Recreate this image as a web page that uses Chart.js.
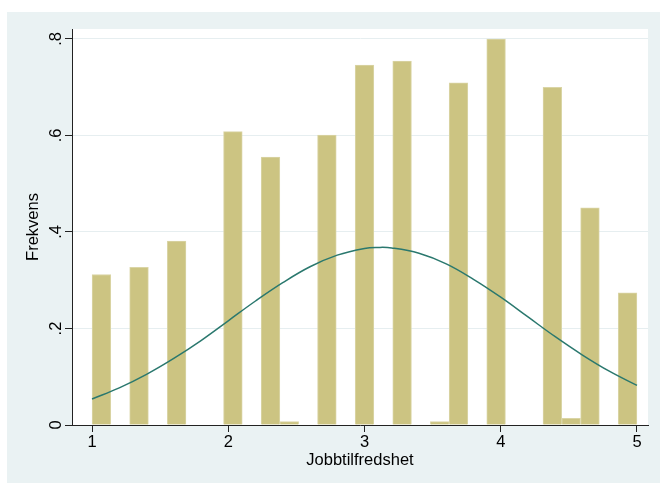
<!DOCTYPE html>
<html>
<head>
<meta charset="utf-8">
<script src="https://cdn.jsdelivr.net/npm/chart.js@4/dist/chart.umd.min.js"></script>
<style>
  html, body { margin: 0; padding: 0; background: #ffffff; }
  canvas { display: block; }
</style>
</head>
<body>
<canvas id="c" width="660" height="483"></canvas>
<script>
// ---- Data ----
// Histogram bin centres (29 bins spanning 1 to 5)
const binCenters = [1.069, 1.207, 1.345, 1.483, 1.621, 1.759, 1.897, 2.034, 2.172, 2.310,
                    2.448, 2.586, 2.724, 2.862, 3.000, 3.138, 3.276, 3.414, 3.552, 3.690,
                    3.828, 3.966, 4.103, 4.241, 4.379, 4.517, 4.655, 4.793, 4.931];
// Density (Frekvens) per bin
const densities = [0.312, 0, 0.327, 0, 0.381, 0, 0, 0.608, 0, 0.555,
                   0.007, 0, 0.601, 0, 0.746, 0, 0.754, 0, 0.007, 0.709,
                   0, 0.800, 0, 0, 0.700, 0.014, 0.450, 0, 0.274];
// Normal curve overlay, read at x = 1.0, 1.2, ... 5.0 (plus the peak at 3.1)
const curveX = [1.0, 1.2, 1.4, 1.6, 1.8, 2.0, 2.2, 2.4, 2.6, 2.8, 3.0, 3.1,
                3.2, 3.4, 3.6, 3.8, 4.0, 4.2, 4.4, 4.6, 4.8, 5.0];
const curveY = [0.054, 0.077, 0.105, 0.138, 0.175, 0.216, 0.257, 0.295, 0.328, 0.352, 0.366, 0.368,
                0.367, 0.356, 0.334, 0.302, 0.265, 0.224, 0.183, 0.145, 0.111, 0.082];
// Axis ticks
const xTicks = [1, 2, 3, 4, 5];
const xTickLabels = ['1', '2', '3', '4', '5'];
const yTicks = [0, 0.2, 0.4, 0.6, 0.8];
const yTickLabels = ['0', '.2', '.4', '.6', '.8'];
const xTitle = 'Jobbtilfredshet';
const yTitle = 'Frekvens';

// ---- Styling ----
const FONT = '"Liberation Sans", Arial, Helvetica, sans-serif';
const FSIZE = 16.5;
const OUTER_BG = '#eaf2f3';
const GRID = '#e6eef0';
const AXIS = '#222222';

const barData = binCenters.map((x, i) => ({ x: x, y: densities[i] }));
const lineData = curveX.map((x, i) => ({ x: x, y: curveY[i] }));

const bgPlugin = {
  id: 'bg',
  beforeDraw(chart) {
    const ctx = chart.ctx;
    const ca = chart.chartArea;
    ctx.save();
    ctx.fillStyle = '#ffffff';
    ctx.fillRect(0, 0, chart.width, chart.height);
    ctx.fillStyle = OUTER_BG;
    ctx.fillRect(7, 12, chart.width - 7, chart.height - 12);
    ctx.fillStyle = '#ffffff';
    ctx.fillRect(ca.left, ca.top, ca.right - ca.left, ca.bottom - ca.top);
    ctx.restore();
  },
  afterDraw(chart) {
    const ctx = chart.ctx;
    const ys = chart.scales.y;
    const ca = chart.chartArea;
    ctx.save();
    // x axis line extends slightly left of the y axis
    ctx.strokeStyle = AXIS;
    ctx.lineWidth = 1;
    ctx.beginPath();
    ctx.moveTo(65, Math.round(ca.bottom) + 0.5);
    ctx.lineTo(ca.left, Math.round(ca.bottom) + 0.5);
    ctx.stroke();
    // rotated y tick labels
    ctx.fillStyle = '#000000';
    ctx.font = FSIZE + 'px ' + FONT;
    ctx.textAlign = 'center';
    ctx.textBaseline = 'alphabetic';
    yTicks.forEach((v, i) => {
      const py = ys.getPixelForValue(v);
      ctx.save();
      ctx.translate(61, py);
      ctx.rotate(-Math.PI / 2);
      ctx.fillText(yTickLabels[i], 0, 0);
      ctx.restore();
    });
    ctx.restore();
  }
};

new Chart(document.getElementById('c'), {
  type: 'bar',
  data: {
    datasets: [
      {
        type: 'line',
        data: lineData,
        borderColor: '#2a786e',
        borderWidth: 1.5,
        pointRadius: 0,
        fill: false,
        tension: 0.4,
        order: 0
      },
      {
        type: 'bar',
        data: barData,
        backgroundColor: '#ccc482',
        borderColor: '#dad5a6',
        borderWidth: 1,
        barPercentage: 1,
        categoryPercentage: 1,
        grouped: false,
        order: 1
      }
    ]
  },
  options: {
    responsive: false,
    devicePixelRatio: 1,
    animation: false,
    layout: { padding: { left: 0, right: 12, top: 29, bottom: 0 } },
    plugins: { legend: { display: false }, tooltip: { enabled: false } },
    scales: {
      x: {
        type: 'linear',
        min: 0.853,
        max: 5.081,
        offset: false,
        afterFit(s) { s.height = 58; },
        afterBuildTicks(s) { s.ticks = xTicks.map(v => ({ value: v })); },
        grid: { offset: false, drawOnChartArea: false, drawTicks: true, tickLength: 7, tickColor: AXIS, tickWidth: 1 },
        border: { display: true, color: AXIS, width: 1, z: 1 },
        ticks: {
          color: '#000000',
          font: { family: FONT, size: FSIZE },
          padding: 1,
          maxRotation: 0,
          autoSkip: false,
          callback: (v) => { const i = xTicks.indexOf(v); return i >= 0 ? xTickLabels[i] : ''; }
        },
        title: {
          display: true,
          text: xTitle,
          color: '#000000',
          font: { family: FONT, size: FSIZE },
          padding: { top: 0, bottom: 13 }
        }
      },
      y: {
        type: 'linear',
        min: 0,
        max: 0.8207,
        afterFit(s) { s.width = 72; },
        afterBuildTicks(s) { s.ticks = yTicks.map(v => ({ value: v })); },
        grid: {
          offset: false,
          drawOnChartArea: true,
          color: (c) => (c.tick && c.tick.value === 0) ? 'rgba(0,0,0,0)' : GRID,
          lineWidth: 1,
          drawTicks: true,
          tickLength: 7,
          tickColor: AXIS,
          tickWidth: 1
        },
        border: { display: true, color: AXIS, width: 1, z: 1 },
        ticks: { display: false },
        title: {
          display: true,
          text: yTitle,
          color: '#000000',
          font: { family: FONT, size: FSIZE },
          padding: { top: 23.5, bottom: 0 }
        }
      }
    }
  },
  plugins: [bgPlugin]
});
</script>
</body>
</html>
